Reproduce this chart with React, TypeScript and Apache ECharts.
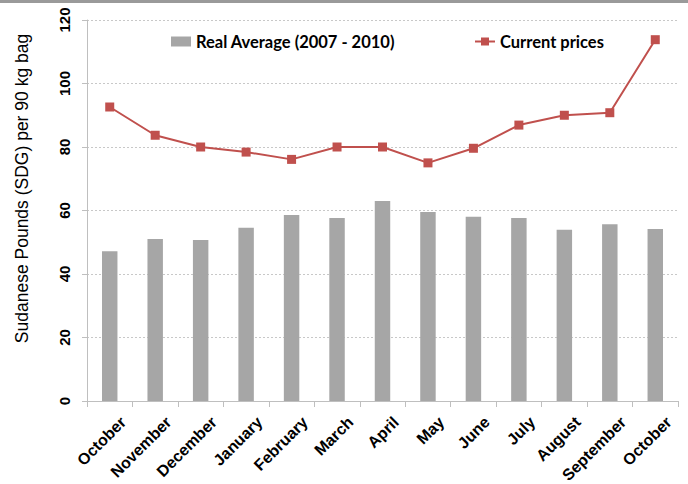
import React, { useEffect, useRef } from "react";
import * as echarts from "echarts";

const categories = ["October", "November", "December", "January", "February", "March", "April", "May", "June", "July", "August", "September", "October"];
const realAverage = [47.2, 51, 50.7, 54.6, 58.6, 57.6, 63, 59.5, 58, 57.6, 53.9, 55.7, 54.2];
const currentPrices = [92.6, 83.7, 80, 78.4, 76.1, 80, 80, 75, 79.6, 86.9, 90, 90.8, 113.8];
const yTicks = { min: 0, max: 120, interval: 20 };

export default function App() {
  const ref = useRef<HTMLDivElement>(null);
  useEffect(() => {
    document.body.style.margin = "0";
    const chart = echarts.init(ref.current!, null, { renderer: "svg" });
    chart.setOption({
      animation: false,
      backgroundColor: "#ffffff",
      graphic: [
        { type: "rect", left: 0, top: 0, shape: { width: 688, height: 3 }, style: { fill: "#9a9a9a" } },
      ],
      legend: {
        left: 171,
        top: 33,
        padding: 0,
        itemGap: 79,
        itemWidth: 20,
        itemHeight: 10,
        textStyle: { fontFamily: "Lato", fontWeight: "bold", fontSize: 16.5, color: "#000" },
        data: [
          { name: "Real Average (2007 - 2010)", icon: "rect" },
          { name: "Current prices" },
        ],
      },
      grid: { left: 87, right: 10, top: 20, bottom: 83, containLabel: false, outerBoundsMode: "none" },
      xAxis: {
        type: "category",
        data: categories,
        boundaryGap: true,
        axisLine: { lineStyle: { color: "#bfbfbf" } },
        axisTick: { show: true, alignWithLabel: false, length: 6, lineStyle: { color: "#bfbfbf" } },
        axisLabel: {
          interval: 0,
          rotate: 45,
          fontFamily: "Liberation Sans",
          fontWeight: "bold",
          fontSize: 16,
          color: "#000",
          margin: 5,
          verticalAlign: "top",
          padding: [11, 0, 0, 0],
        },
      },
      yAxis: {
        type: "value",
        min: yTicks.min,
        max: yTicks.max,
        interval: yTicks.interval,
        name: "Sudanese Pounds (SDG) per 90 kg bag",
        nameLocation: "middle",
        nameRotate: 90,
        nameGap: 56,
        nameTextStyle: { fontFamily: "Liberation Sans", fontSize: 17.5, color: "#000", padding: [0, 0, 0, 44] },
        axisLine: { show: true, lineStyle: { color: "#bfbfbf" } },
        axisTick: { show: true, length: 5, lineStyle: { color: "#bfbfbf" } },
        axisLabel: {
          rotate: 90,
          fontFamily: "Liberation Sans",
          fontWeight: "bold",
          fontSize: 15,
          color: "#000",
          margin: 15,
        },
        splitLine: { show: true, lineStyle: { color: "#c8c8c8", type: [2, 2], width: 1 } },
      },
      series: [
        {
          name: "Real Average (2007 - 2010)",
          type: "bar",
          data: realAverage,
          barWidth: "34%",
          itemStyle: { color: "#a6a6a6" },
        },
        {
          name: "Current prices",
          type: "line",
          data: currentPrices,
          symbol: "rect",
          symbolSize: 9,
          lineStyle: { color: "#c0504d", width: 2 },
          itemStyle: { color: "#c0504d" },
        },
      ],
    });
    return () => chart.dispose();
  }, []);
  return <div ref={ref} style={{ position: "absolute", left: 0, top: 0, width: 688, height: 484 }} />;
}
